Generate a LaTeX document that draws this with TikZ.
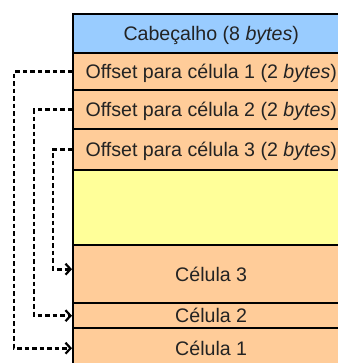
\documentclass[tikz,border=0pt]{standalone}
\usepackage{fontspec}
\setmainfont{Liberation Sans}
\usetikzlibrary{arrows.meta}
\definecolor{hdrblue}{RGB}{153,204,255}
\definecolor{peach}{RGB}{255,204,153}
\definecolor{paleyellow}{RGB}{255,255,153}
\definecolor{txt}{RGB}{35,35,35}
\tikzset{
  row/.style={draw=black, line width=2.4pt, anchor=north west, minimum width=276pt,
    inner sep=0pt, text height=14pt, text depth=0pt, text=txt,
    font=\fontsize{19.6}{22}\selectfont},
  ptr/.style={draw=black, line width=2.6pt, dash pattern=on 4.5pt off 3pt,
    -{Straight Barb[length=5pt,width=11pt,line width=2.2pt]}}
}
\begin{document}
\begin{tikzpicture}[x=1pt,y=-1pt]
\useasboundingbox (0,0) rectangle (337,363);
\node[row, fill=hdrblue, minimum height=39pt] (head) at (72,13) {Cabeçalho (8 \textit{bytes})};
\node[row, fill=peach, minimum height=37pt] (o1) at (72,52) {Offset para célula 1 (2 \textit{bytes})};
\node[row, fill=peach, minimum height=39pt] (o2) at (72,89) {Offset para célula 2 (2 \textit{bytes})};
\node[row, fill=peach, minimum height=41pt] (o3) at (72,128) {Offset para célula 3 (2 \textit{bytes})};
\node[row, fill=paleyellow, minimum height=75pt] (free) at (72,169) {};
\node[row, fill=peach, minimum height=58pt] (c3) at (72,244) {Célula 3};
\node[row, fill=peach, minimum height=25pt] (c2) at (72,302) {Célula 2};
\node[row, fill=peach, minimum height=40pt] (c1) at (72,327) {Célula 1};
\draw[ptr] (o1.west) -- ++(-58,0) |- (c1.west);
\draw[ptr] (o2.west) -- ++(-38,0) |- (c2.west);
\draw[ptr] (o3.west) -- ++(-19,0) |- ([yshift=5pt]c3.west);
\end{tikzpicture}
\end{document}
